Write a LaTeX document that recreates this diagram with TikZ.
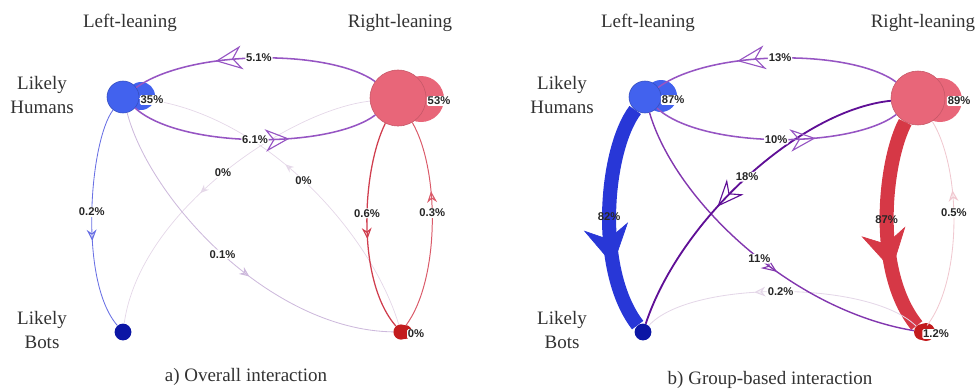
\documentclass[tikz,border=0pt]{standalone}
\usepackage{fontspec}
\setmainfont{Liberation Serif}
\setsansfont{Liberation Sans}
\usetikzlibrary{arrows.meta,decorations.markings}

\definecolor{lhblue}{RGB}{66,98,238}
\definecolor{lbblue}{RGB}{12,22,165}
\definecolor{rhpink}{RGB}{232,102,121}
\definecolor{rbred}{RGB}{195,28,30}
\definecolor{hhpurple}{RGB}{150,85,195}
\definecolor{darkpurple}{RGB}{95,15,150}
\definecolor{midpurple}{RGB}{130,55,175}
\definecolor{palepurple}{RGB}{205,185,220}
\definecolor{ghost}{RGB}{228,215,232}
\definecolor{thinblue}{RGB}{105,112,228}
\definecolor{thinred}{RGB}{208,62,78}
\definecolor{palered}{RGB}{218,90,105}
\definecolor{ghostred}{RGB}{240,200,208}
\definecolor{fatblue}{RGB}{40,55,215}
\definecolor{fatred}{RGB}{214,56,70}
\definecolor{inktext}{RGB}{50,50,50}

\tikzset{
  grp/.style={circle,inner sep=0pt,minimum size=#1},
  pct/.style={font=\sffamily\bfseries\fontsize{8}{9}\selectfont,text=black!85,fill=white,inner sep=0.6pt,rounded corners=1pt},
  hdr/.style={font=\fontsize{13.5}{17}\selectfont,text=inktext,align=center},
  tip/.style n args={3}{postaction={decorate},decoration={markings,mark=at position #1 with {\arrow{Stealth[open,length=#2,width=#3,line width=0.8pt]}}}},
  fattip/.style n args={3}{postaction={decorate},decoration={markings,mark=at position #1 with {\arrow{Stealth[length=#2,width=#3,line width=0.5pt]}}}},
}

\begin{document}
\begin{tikzpicture}[x=0.025cm,y=-0.025cm]
\useasboundingbox (0,0) rectangle (979,390);

\node[hdr] (lefta) at (130,23) {Left-leaning};
\node[hdr] (righta) at (400,23) {Right-leaning};
\node[hdr] (humansa) at (42,95) {Likely\\Humans};
\node[hdr] (botsa) at (42,330) {Likely\\Bots};
\node[hdr] (capa) at (246,377) {a) Overall interaction};

\fill[lhblue] (141,96) circle (14);
\fill[rhpink] (421,99) circle (23);
\fill[rbred] (405,332) circle (7);
\node[grp=0.8cm,fill=lhblue,draw=lhblue!80!black] (lha) at (123,97) {};
\node[grp=1.4cm,fill=rhpink,draw=rhpink!85!black] (rha) at (398,98) {};
\node[grp=0.42cm,fill=lbblue] (lba) at (123,332) {};
\node[grp=0.38cm,fill=rbred] (rba) at (401,332) {};

\draw[ghost,line width=0.5pt,tip={0.56}{6pt}{5pt}] (rha) .. controls (290,110) and (140,210) .. (lba) node[pct,pos=0.5] {0\%};
\draw[ghost,line width=0.5pt,tip={0.55}{6pt}{5pt}] (rba) .. controls (370,230) and (260,110) .. (lha) node[pct,pos=0.5] {0\%};
\draw[palepurple,line width=0.6pt,tip={0.57}{7pt}{6pt}] (lha) .. controls (150,200) and (270,330) .. (rba) node[pct,pos=0.5] {0.1\%};
\draw[thinblue,line width=0.6pt,tip={0.6}{8pt}{7pt}] (lha) .. controls (90,140) and (78,280) .. (lba) node[pct,pos=0.5] {0.2\%};
\draw[thinred,line width=0.9pt,tip={0.56}{8pt}{7pt}] (rha) .. controls (362,170) and (356,280) .. (rba) node[pct,pos=0.45] {0.6\%};
\draw[palered,line width=0.7pt,tip={0.66}{8pt}{7pt}] (rba) .. controls (440,280) and (440,170) .. (rha) node[pct,pos=0.55] {0.3\%};
\draw[hhpurple,line width=1.1pt,tip={0.66}{19pt}{17pt}] (rha) .. controls (330,49) and (190,49) .. (lha) node[pct,pos=0.5] {5.1\%};
\draw[hhpurple,line width=1.1pt,tip={0.64}{17pt}{16pt}] (lha) .. controls (180,149) and (330,149) .. (rha) node[pct,pos=0.5] {6.1\%};

\node[pct] at (152,100) {35\%};
\node[pct] at (439,101) {53\%};
\node[pct] at (416,334) {0\%};

\node[hdr] (leftb) at (648,23) {Left-leaning};
\node[hdr] (rightb) at (923,23) {Right-leaning};
\node[hdr] (humansb) at (562,95) {Likely\\Humans};
\node[hdr] (botsb) at (562,330) {Likely\\Bots};
\node[hdr] (capb) at (770,380) {b) Group-based interaction};

\fill[lhblue] (661,96) circle (16);
\fill[rhpink] (940,100) circle (22);
\fill[rbred] (926,332) circle (9);
\node[grp=0.8cm,fill=lhblue,draw=lhblue!80!black] (lhb) at (645,97) {};
\node[grp=1.35cm,fill=rhpink,draw=rhpink!85!black] (rhb) at (918,98) {};
\node[grp=0.42cm,fill=lbblue] (lbb) at (643,332) {};
\node[grp=0.4cm,fill=rbred] (rbb) at (922,332) {};

\draw[fatblue,line width=10pt,fattip={0.71}{28pt}{32pt}] (lhb) .. controls (605,150) and (595,270) .. (lbb) node[pct,fill=none,pos=0.52] {82\%};
\draw[fatred,line width=10pt,fattip={0.71}{28pt}{32pt}] (rhb) .. controls (885,160) and (872,270) .. (rbb) node[pct,fill=none,pos=0.51] {87\%};
\draw[ghost,line width=0.6pt,tip={0.6}{8pt}{7pt}] (rbb) .. controls (870,280) and (690,280) .. (lbb) node[pct,pos=0.5] {0.2\%};
\draw[ghostred,line width=0.6pt,tip={0.66}{8pt}{7pt}] (rbb) .. controls (962,280) and (962,170) .. (rhb) node[pct,pos=0.55] {0.5\%};
\draw[midpurple,line width=1pt,tip={0.58}{11pt}{9pt}] (lhb) .. controls (675,200) and (790,310) .. (rbb) node[pct,pos=0.55] {11\%};
\draw[darkpurple,line width=1.3pt,tip={0.6}{19pt}{16pt}] (rhb) .. controls (800,110) and (680,220) .. (lbb) node[pct,pos=0.5] {18\%};
\draw[hhpurple,line width=1.1pt,tip={0.66}{20pt}{17pt}] (rhb) .. controls (851,49) and (711,49) .. (lhb) node[pct,pos=0.5] {13\%};
\draw[hhpurple,line width=1.1pt,tip={0.66}{18pt}{16pt}] (lhb) .. controls (701,149) and (851,149) .. (rhb) node[pct,pos=0.5] {10\%};

\node[pct] at (673,100) {87\%};
\node[pct] at (959,101) {89\%};
\node[pct] at (936,334) {1.2\%};
\end{tikzpicture}
\end{document}
